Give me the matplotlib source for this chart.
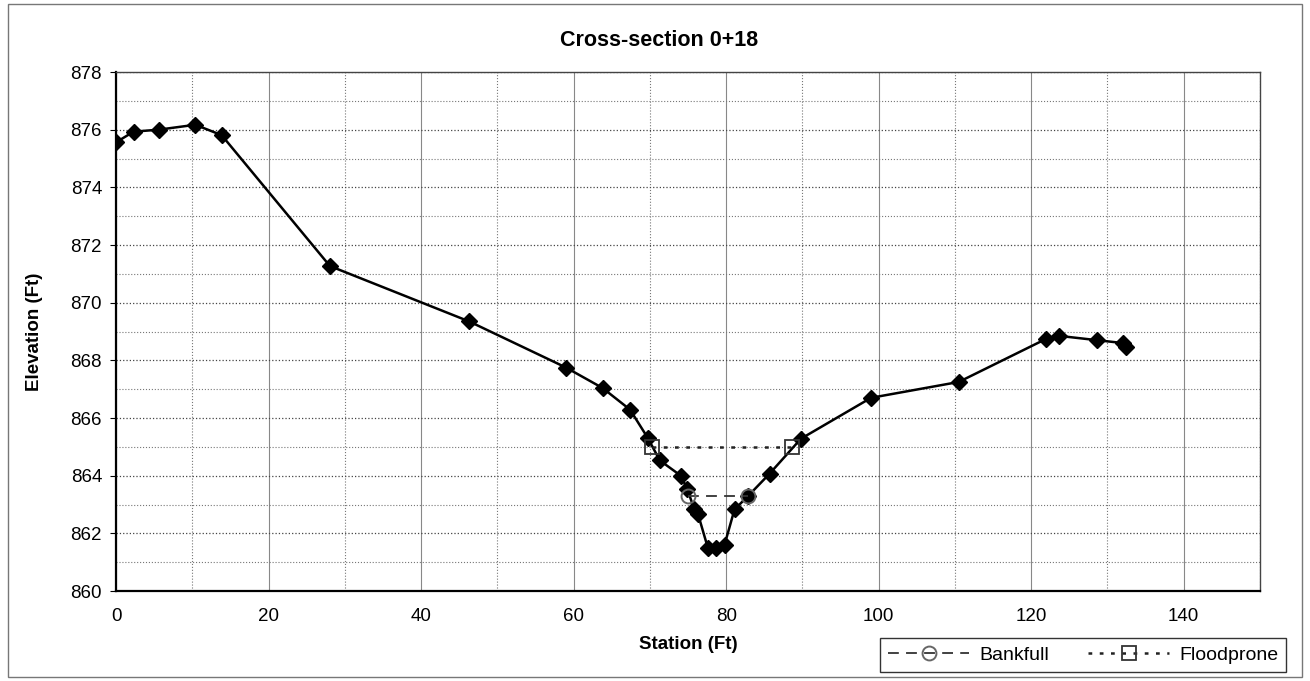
import matplotlib
matplotlib.use("Agg")
import matplotlib.pyplot as plt
from matplotlib.patches import Rectangle
from matplotlib.ticker import MultipleLocator

plt.rcParams['font.family'] = ['Liberation Sans', 'DejaVu Sans']

# Ground survey
station = [0.0, 2.3, 5.6, 10.4, 13.85, 28.05, 46.3, 59.0, 63.8, 67.4, 69.7, 71.3,
           74.05, 74.9, 75.8, 76.3, 77.6, 78.7, 79.8, 81.1, 82.9, 85.7, 89.8,
           99.0, 110.5, 122.0, 123.6, 128.6, 132.0, 132.4]
elevation = [875.56, 875.93, 876.0, 876.17, 875.81, 871.27, 869.35, 867.75, 867.04,
             866.29, 865.32, 864.53, 864.0, 863.54, 862.85, 862.68, 861.5, 861.5,
             861.61, 862.83, 863.3, 864.07, 865.28, 866.7, 867.25, 868.75, 868.85,
             868.7, 868.6, 868.45]

bankfull_x = [75.0, 82.9]
bankfull_y = [863.3, 863.3]
flood_x = [70.3, 88.7]
flood_y = [865.0, 865.0]

W, H = 1310, 681
fig = plt.figure(figsize=(W / 100, H / 100), dpi=100)
ax = fig.add_axes([116 / W, 1 - 591 / H, (1260 - 116) / W, (591 - 72) / H])

ax.set_xlim(0, 150)
ax.set_ylim(860, 878)
ax.xaxis.set_major_locator(MultipleLocator(20))
ax.xaxis.set_minor_locator(MultipleLocator(10))
ax.yaxis.set_major_locator(MultipleLocator(2))
ax.yaxis.set_minor_locator(MultipleLocator(1))

ax.grid(which='major', axis='x', color='#888888', linestyle='-', linewidth=0.8)
ax.grid(which='minor', axis='x', color='#777777', linestyle=':', linewidth=0.8)
ax.grid(which='major', axis='y', color='#444444', linestyle=':', linewidth=0.9)
ax.grid(which='minor', axis='y', color='#777777', linestyle=':', linewidth=0.8)
ax.set_axisbelow(True)

ax.plot(station, elevation, color='black', linewidth=1.8, marker='D',
        markersize=8, markerfacecolor='black', markeredgecolor='black', zorder=3)
ax.plot(bankfull_x, bankfull_y, color='#333333', linestyle=(0, (6, 4)), linewidth=1.3,
        marker='o', markersize=10, markerfacecolor='none', markeredgecolor='#666666',
        markeredgewidth=1.4, label='Bankfull', zorder=4)
ax.plot(flood_x, flood_y, color='#222222', linestyle=(0, (1.5, 3)), linewidth=1.8,
        marker='s', markersize=10, markerfacecolor='none', markeredgecolor='#333333',
        markeredgewidth=1.3, label='Floodprone', zorder=4)

for s in ax.spines.values():
    s.set_color('#444444')
    s.set_linewidth(1.0)
ax.spines['left'].set_color('black')
ax.spines['left'].set_linewidth(1.6)
ax.spines['bottom'].set_color('black')
ax.spines['bottom'].set_linewidth(1.6)

ax.tick_params(axis='both', which='major', labelsize=13.5, direction='out', length=4, pad=6)
ax.tick_params(axis='x', which='major', length=0, pad=12)
ax.tick_params(axis='both', which='minor', length=0)

ax.set_xlabel('Station (Ft)', fontsize=13.5, fontweight='bold', labelpad=8)
ax.set_ylabel('Elevation (Ft)', fontsize=13.5, fontweight='bold', labelpad=20)
fig.text(0.503, 1 - 40 / H, 'Cross-section 0+18', ha='center', va='center',
         fontsize=15.5, fontweight='bold')

leg = fig.legend(loc='center', bbox_to_anchor=(1083 / W, 1 - 655 / H), ncol=2,
                 fontsize=14, frameon=True, fancybox=False, edgecolor='black',
                 handlelength=4.2, columnspacing=2.0, borderpad=0.4, handletextpad=0.5)
leg.get_frame().set_linewidth(1.0)

fig.patches.append(Rectangle((8 / W, 4 / H), (W - 16) / W, (H - 8) / H,
                             transform=fig.transFigure, fill=False,
                             edgecolor='#777777', linewidth=1.0))

fig.savefig('out.png', dpi=100, facecolor='white')
